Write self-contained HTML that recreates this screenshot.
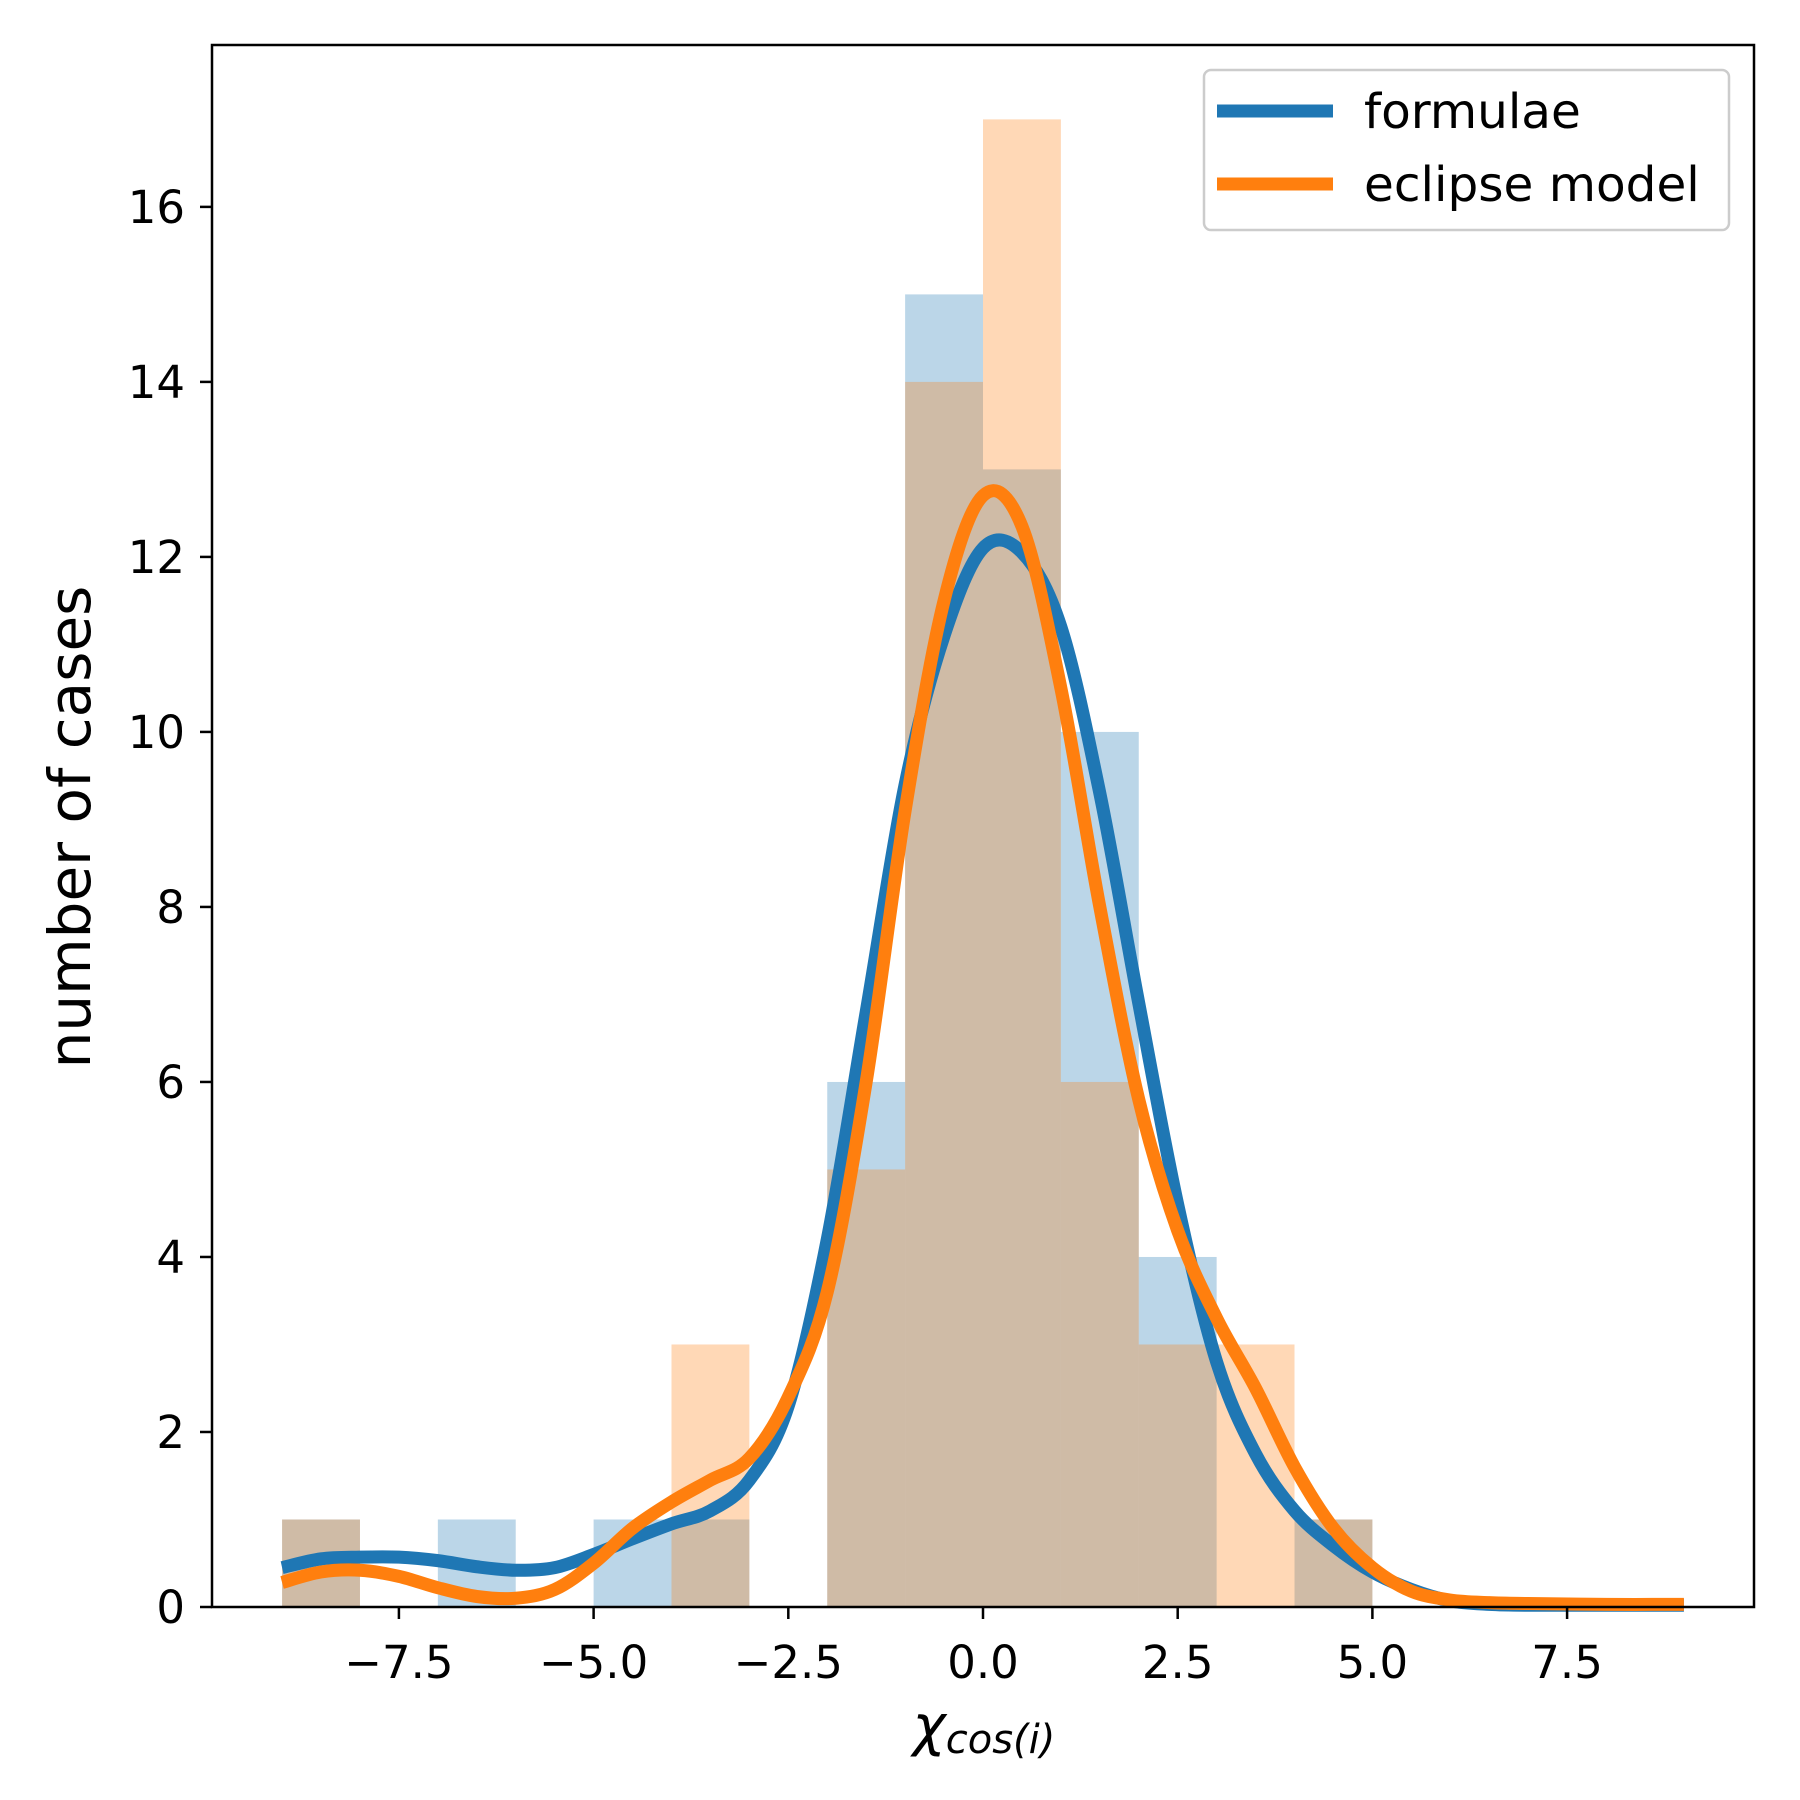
<!DOCTYPE html>
<html><head><meta charset="utf-8"><style>
body{margin:0;background:#fff}
svg{display:block;font-family:"DejaVu Sans","Liberation Sans",sans-serif}
</style></head><body>
<svg id="chart" width="1800" height="1800" viewBox="0 0 1800 1800">
<g id="bars"></g>
<g id="curves"></g>
<rect x="212" y="45" width="1542" height="1562" fill="none" stroke="#000" stroke-width="2.5"/>
<g id="xticks"></g>
<g id="yticks"></g>
<text x="984" y="1745" text-anchor="middle" font-size="56" font-style="italic">χ<tspan font-size="40" dy="8">cos(i)</tspan></text>
<text transform="translate(90,827) rotate(-90)" text-anchor="middle" font-size="58">number of cases</text>
<g>
<rect x="1204" y="70" width="525" height="160" rx="7" fill="#fff" fill-opacity="0.8" stroke="#ccc" stroke-width="2.5"/>
<line x1="1217" y1="111" x2="1333" y2="111" stroke="#1f77b4" stroke-width="13"/>
<text x="1364" y="128" font-size="48.5">formulae</text>
<line x1="1217" y1="184" x2="1333" y2="184" stroke="#ff7f0e" stroke-width="13"/>
<text x="1364" y="201" font-size="48.5">eclipse model</text>
</g>
</svg>
<script>
const binEdges = [-9,-8,-7,-6,-5,-4,-3,-2,-1,0,1,2,3,4,5];
const formulaeCounts = [1,0,1,0,1,1,0,6,15,13,10,4,0,1];
const eclipseCounts = [1,0,0,0,0,3,0,5,14,17,6,3,3,1];
const formulaeKdeX = [-9,-8.5,-8,-7.5,-7,-6.5,-6,-5.5,-5,-4.5,-4,-3.5,-3,-2.5,-2,-1.5,-1,-0.5,0,0.5,1,1.5,2,2.5,3,3.5,4,4.5,5,5.5,6,6.5,7,8,9];
const formulaeKdeY = [0.45,0.55,0.57,0.57,0.53,0.46,0.42,0.45,0.6,0.78,0.95,1.1,1.45,2.3,4.2,6.8,9.4,11.1,12.1,12.05,11.2,9.3,6.9,4.6,2.8,1.75,1.1,0.7,0.4,0.2,0.07,0.03,0.02,0.02,0.02];
const eclipseKdeX = [-9,-8.5,-8,-7.5,-7,-6.5,-6,-5.5,-5,-4.5,-4,-3.5,-3,-2.5,-2,-1.5,-1,-0.5,0,0.5,1,1.5,2,2.5,3,3.5,4,4.5,5,5.5,6,6.5,7,8,9];
const eclipseKdeY = [0.28,0.4,0.42,0.35,0.22,0.12,0.1,0.2,0.5,0.9,1.2,1.45,1.7,2.4,3.6,6.0,9.1,11.5,12.7,12.35,10.5,8.0,5.8,4.3,3.3,2.5,1.6,0.9,0.45,0.18,0.08,0.05,0.04,0.03,0.03];
const xTicks = [-7.5,-5.0,-2.5,0.0,2.5,5.0,7.5];
const yTicks = [0,2,4,6,8,10,12,14,16];

const NS = "http://www.w3.org/2000/svg";
const X0=212, X1=1754, Y0=1607, Y1=45;
const xMin=-9.9, xMax=9.9, yMin=0, yMax=17.85;
function sx(v){return X0+(v-xMin)/(xMax-xMin)*(X1-X0);}
function sy(v){return Y0-(v-yMin)/(yMax-yMin)*(Y0-Y1);}
function mk(tag, attrs, parent){const e=document.createElementNS(NS,tag);for(const k in attrs)e.setAttribute(k,attrs[k]);parent.appendChild(e);return e;}

const bars=document.getElementById('bars');
function drawHist(counts,color,name){
  counts.forEach((c,i)=>{
    if(c<=0)return;
    const r=mk('rect',{x:sx(binEdges[i]),y:sy(c),width:sx(binEdges[i+1])-sx(binEdges[i]),height:sy(0)-sy(c),fill:color,'fill-opacity':0.3},bars);
    
    
  });
}
drawHist(formulaeCounts,'#1f77b4','formulae');
drawHist(eclipseCounts,'#ff7f0e','eclipse');

function smoothPath(xs,ys){
  const p=xs.map((x,i)=>[sx(x),sy(ys[i])]);
  let d='M'+p[0][0]+','+p[0][1];
  for(let i=0;i<p.length-1;i++){
    const a=p[Math.max(i-1,0)],b=p[i],c=p[i+1],e=p[Math.min(i+2,p.length-1)];
    const c1=[b[0]+(c[0]-a[0])/6,b[1]+(c[1]-a[1])/6];
    const c2=[c[0]-(e[0]-b[0])/6,c[1]-(e[1]-b[1])/6];
    d+=' C'+c1[0]+','+c1[1]+' '+c2[0]+','+c2[1]+' '+c[0]+','+c[1];
  }
  return d;
}
const curves=document.getElementById('curves');
const l1=mk('path',{d:smoothPath(formulaeKdeX,formulaeKdeY),fill:'none',stroke:'#1f77b4','stroke-width':13},curves);


const l2=mk('path',{d:smoothPath(eclipseKdeX,eclipseKdeY),fill:'none',stroke:'#ff7f0e','stroke-width':13},curves);



const xg=document.getElementById('xticks');
xTicks.forEach(v=>{
  const t=mk('line',{x1:sx(v),x2:sx(v),y1:Y0,y2:Y0+12,stroke:'#000','stroke-width':2.5},xg);
  
  
  const lb=mk('text',{x:sx(v),y:Y0+71,'text-anchor':'middle','font-size':45},xg);
  lb.textContent=(v<0?'\u2212':'')+Math.abs(v).toFixed(1);
  
  
});
const yg=document.getElementById('yticks');
yTicks.forEach(v=>{
  const t=mk('line',{x1:X0-12,x2:X0,y1:sy(v),y2:sy(v),stroke:'#000','stroke-width':2.5},yg);
  
  
  const lb=mk('text',{x:X0-27,y:sy(v)+16,'text-anchor':'end','font-size':45},yg);
  lb.textContent=String(v);
  
  
});
</script>
</body></html>
